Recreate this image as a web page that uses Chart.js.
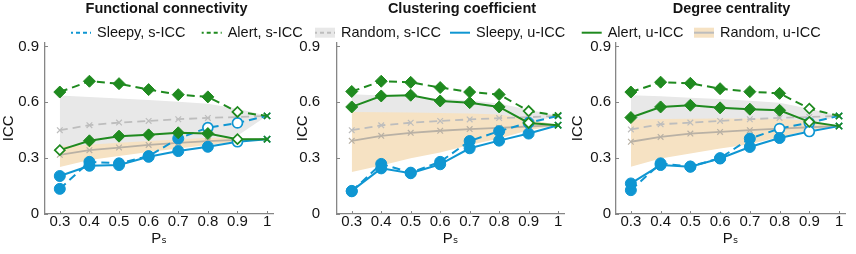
<!DOCTYPE html>
<html>
<head>
<meta charset="utf-8">
<script src="https://cdn.jsdelivr.net/npm/chart.js@4.4.1/dist/chart.umd.min.js"></script>
<style>
html,body{margin:0;padding:0;background:#fff;overflow:hidden}
#wrap{position:relative;width:856px;height:254px;overflow:hidden}
canvas{position:absolute;top:0}
</style>
</head>
<body>
<div id="wrap">
  <canvas id="c1" width="333" height="254" style="left:0px"></canvas>
  <canvas id="c2" width="336" height="254" style="left:294px"></canvas>
  <canvas id="c3" width="325" height="254" style="left:569px"></canvas>
  <canvas id="cl" width="856" height="50" style="left:0px"></canvas>
</div>
<script>
// ---------- data ----------
const ps = [0.3, 0.4, 0.5, 0.6, 0.7, 0.8, 0.9, 1.0];
const xTickLabels = ['0.3', '0.4', '0.5', '0.6', '0.7', '0.8', '0.9', '1'];
const yTicks = [0, 0.3, 0.6, 0.9];
const yTickLabels = ['0', '0.3', '0.6', '0.9'];
const panelTitles = ['Functional connectivity', 'Clustering coefficient', 'Degree centrality'];
const legendLabels = ['Sleepy, s-ICC', 'Alert, s-ICC', 'Random, s-ICC', 'Sleepy, u-ICC', 'Alert, u-ICC', 'Random, u-ICC'];
const yTitle = 'ICC';
const xTitle = 'P\u209B';

// Functional connectivity
const fcSleepyS = [0.135, 0.280, 0.272, 0.311, 0.405, 0.464, 0.489, 0.527];
const fcSleepySHollow = [0, 0, 0, 0, 0, 1, 1, 0];
const fcAlertS = [0.655, 0.713, 0.700, 0.668, 0.641, 0.629, 0.548, 0.527];
const fcAlertSHollow = [0, 0, 0, 0, 0, 0, 1, 0];
const fcRandomS = [0.450, 0.477, 0.491, 0.500, 0.509, 0.516, 0.521, 0.527];
const fcRandomSHigh = [0.636, 0.628, 0.620, 0.612, 0.603, 0.592, 0.565, 0.527];
const fcRandomSLow = [0.340, 0.355, 0.370, 0.380, 0.390, 0.400, 0.420, 0.527];
const fcSleepyU = [0.204, 0.259, 0.263, 0.307, 0.338, 0.361, 0.388, 0.402];
const fcSleepyUHollow = [0, 0, 0, 0, 0, 0, 1, 0];
const fcAlertU = [0.343, 0.393, 0.418, 0.425, 0.436, 0.432, 0.402, 0.402];
const fcAlertUHollow = [1, 0, 0, 0, 0, 0, 1, 0];
const fcRandomU = [0.318, 0.343, 0.357, 0.371, 0.382, 0.391, 0.398, 0.402];
const fcRandomUHigh = [0.362, 0.372, 0.382, 0.392, 0.400, 0.410, 0.410, 0.402];
const fcRandomULow = [0.252, 0.290, 0.312, 0.333, 0.352, 0.370, 0.390, 0.402];

// Clustering coefficient
const ccSleepyS = [0.122, 0.269, 0.222, 0.280, 0.392, 0.445, 0.490, 0.527];
const ccSleepySHollow = [0, 0, 0, 0, 0, 0, 0, 0];
const ccAlertS = [0.658, 0.713, 0.707, 0.679, 0.655, 0.642, 0.553, 0.529];
const ccAlertSHollow = [0, 0, 0, 0, 0, 0, 1, 0];
const ccRandomS = [0.450, 0.476, 0.490, 0.500, 0.508, 0.515, 0.520, 0.527];
const ccRandomSHigh = [0.643, 0.636, 0.629, 0.620, 0.610, 0.593, 0.560, 0.527];
const ccRandomSLow = [0.500, 0.500, 0.500, 0.500, 0.500, 0.500, 0.490, 0.527];
const ccSleepyU = [0.124, 0.245, 0.219, 0.267, 0.353, 0.394, 0.432, 0.477];
const ccSleepyUHollow = [0, 0, 0, 0, 0, 0, 0, 0];
const ccAlertU = [0.575, 0.634, 0.638, 0.607, 0.598, 0.575, 0.489, 0.477];
const ccAlertUHollow = [0, 0, 0, 0, 0, 0, 1, 0];
const ccRandomU = [0.393, 0.420, 0.436, 0.447, 0.456, 0.463, 0.470, 0.477];
const ccRandomUHigh = [0.548, 0.547, 0.545, 0.543, 0.540, 0.535, 0.510, 0.477];
const ccRandomULow = [0.225, 0.260, 0.300, 0.330, 0.370, 0.405, 0.450, 0.477];

// Degree centrality
const dcSleepyS = [0.128, 0.272, 0.255, 0.300, 0.405, 0.459, 0.490, 0.527];
const dcSleepySHollow = [0, 0, 0, 0, 0, 1, 1, 0];
const dcAlertS = [0.655, 0.708, 0.702, 0.673, 0.657, 0.648, 0.566, 0.526];
const dcAlertSHollow = [0, 0, 0, 0, 0, 0, 1, 0];
const dcRandomS = [0.454, 0.482, 0.491, 0.500, 0.509, 0.516, 0.521, 0.527];
const dcRandomSHigh = [0.638, 0.632, 0.625, 0.617, 0.608, 0.598, 0.565, 0.527];
const dcRandomSLow = [0.480, 0.485, 0.490, 0.490, 0.490, 0.490, 0.480, 0.527];
const dcSleepyU = [0.164, 0.263, 0.254, 0.298, 0.360, 0.408, 0.443, 0.472];
const dcSleepyUHollow = [0, 0, 0, 0, 0, 0, 1, 0];
const dcAlertU = [0.518, 0.575, 0.584, 0.570, 0.563, 0.557, 0.495, 0.472];
const dcAlertUHollow = [0, 0, 0, 0, 0, 0, 1, 0];
const dcRandomU = [0.388, 0.414, 0.432, 0.441, 0.450, 0.459, 0.466, 0.472];
const dcRandomUHigh = [0.507, 0.510, 0.512, 0.513, 0.513, 0.512, 0.500, 0.472];
const dcRandomULow = [0.254, 0.298, 0.325, 0.352, 0.375, 0.414, 0.450, 0.472];

// ---------- styles ----------
const BLUE = '#0f96d2';
const GREEN = '#1f8a1f';
const GRAY_LINE = '#bdbdbd';
const GRAY_BAND = '#e8e8e8';
const TAN_LINE = '#b9b1a5';
const ORANGE_BAND = '#f6e2c3';
const AXIS = '#868686';
const TEXT = '#141414';
const FONT = '"Liberation Sans", Arial, "DejaVu Sans", sans-serif';

Chart.defaults.font.family = FONT;
Chart.defaults.font.size = 15;
Chart.defaults.color = TEXT;

function pts(values) { return ps.map((x, i) => ({x: x, y: values[i]})); }

function series(values, color, dash, shape, hollow, order) {
  const last = values.length - 1;
  return {
    data: pts(values), borderColor: color, borderWidth: 2, borderDash: dash,
    pointStyle: values.map((_, i) => i === last ? 'crossRot' : shape),
    pointRadius: values.map((_, i) => i === last ? 4.5 : (hollow[i] ? 5 : (shape === 'rectRot' ? 6 : 5.5))),
    pointBackgroundColor: values.map((_, i) => hollow[i] ? '#ffffff' : color),
    pointBorderColor: color,
    pointBorderWidth: values.map((_, i) => i === last ? 1.6 : (hollow[i] ? 1.7 : 1)),
    fill: false, tension: 0, order: order
  };
}
function randomLine(values, color, dash, order) {
  return {
    data: pts(values), borderColor: color, borderWidth: 1.8, borderDash: dash,
    pointStyle: 'crossRot', pointRadius: 4, pointBorderColor: color, pointBorderWidth: 1.2,
    pointBackgroundColor: color, fill: false, tension: 0, order: order
  };
}
function bandEdge(values, order, target, color) {
  return {
    data: pts(values), borderWidth: 0, pointRadius: 0, tension: 0, order: order,
    fill: target === null ? false : {target: target}, backgroundColor: color || 'rgba(0,0,0,0)'
  };
}

const inwardTicks = {
  id: 'inwardTicks',
  afterDraw(chart) {
    const ctx = chart.ctx, xs = chart.scales.x, ys = chart.scales.y, a = chart.chartArea;
    ctx.save();
    ctx.strokeStyle = AXIS; ctx.lineWidth = 1;
    ctx.beginPath();
    yTicks.forEach(v => { const y = Math.round(ys.getPixelForValue(v)) + 0.5; ctx.moveTo(a.left, y); ctx.lineTo(a.left + 3, y); });
    ps.forEach(v => { const x = Math.round(xs.getPixelForValue(v)) + 0.5; ctx.moveTo(x, a.bottom); ctx.lineTo(x, a.bottom - 3); });
    ctx.stroke();
    ctx.restore();
  }
};

function makePanel(canvasId, title, yWidth, rightWidth, labelPad, d) {
  const datasets = [
    bandEdge(d.randomSLow, 20, null),
    bandEdge(d.randomSHigh, 19, 0, GRAY_BAND),
    bandEdge(d.randomULow, 18, null),
    bandEdge(d.randomUHigh, 17, 2, ORANGE_BAND),
    randomLine(d.randomS, GRAY_LINE, [8, 5], 16),
    randomLine(d.randomU, TAN_LINE, [], 15),
    series(d.sleepyS, BLUE, [8, 5], 'circle', d.sleepySHollow, 14),
    series(d.sleepyU, BLUE, [], 'circle', d.sleepyUHollow, 13),
    series(d.alertS, GREEN, [8, 5], 'rectRot', d.alertSHollow, 12),
    series(d.alertU, GREEN, [], 'rectRot', d.alertUHollow, 11)
  ];
  return new Chart(document.getElementById(canvasId), {
    type: 'line',
    data: {datasets: datasets},
    plugins: [inwardTicks],
    options: {
      responsive: false, animation: false, devicePixelRatio: 1,
      events: [],
      layout: {padding: 0},
      plugins: {
        legend: {display: false}, tooltip: {enabled: false},
        title: {display: true, text: title, font: {size: 14.5, weight: 'bold', lineHeight: 1.2},
                color: TEXT, padding: {top: 0, bottom: 25.3}}
      },
      scales: {
        x: {
          type: 'linear', min: 0.25, max: 1.02,
          afterBuildTicks: s => { s.ticks = ps.map(v => ({value: v})); },
          afterFit: s => { s.height = 40; },
          grid: {display: false, drawTicks: false},
          border: {display: true, color: AXIS, width: 1.3},
          ticks: {padding: 0, font: {size: 15, lineHeight: 1}, color: TEXT, maxRotation: 0, autoSkip: false,
                  callback: (v, i) => xTickLabels[i]},
          title: {display: true, text: xTitle, font: {size: 15, lineHeight: 1.2}, color: TEXT, padding: {top: 0, bottom: 6}}
        },
        y: {
          type: 'linear', position: 'left', min: 0, max: 0.92,
          afterBuildTicks: s => { s.ticks = yTicks.map(v => ({value: v})); },
          afterFit: s => { s.width = yWidth; },
          grid: {display: false, drawTicks: false},
          border: {display: true, color: AXIS, width: 1.3},
          ticks: {padding: labelPad, font: {size: 15, lineHeight: 1}, color: TEXT,
                  callback: (v, i) => yTickLabels[i]},
          title: {display: true, text: yTitle, font: {size: 15, lineHeight: 1.2}, color: TEXT, padding: {top: 0, bottom: 0}}
        },
        y2: {
          type: 'linear', position: 'right', display: true,
          afterFit: s => { s.width = rightWidth; },
          grid: {display: false, drawTicks: false}, border: {display: false},
          ticks: {display: false}
        }
      }
    }
  });
}

makePanel('c1', panelTitles[0], 45, 60, 6, {
  sleepyS: fcSleepyS, sleepySHollow: fcSleepySHollow, alertS: fcAlertS, alertSHollow: fcAlertSHollow,
  randomS: fcRandomS, randomSHigh: fcRandomSHigh, randomSLow: fcRandomSLow,
  sleepyU: fcSleepyU, sleepyUHollow: fcSleepyUHollow, alertU: fcAlertU, alertUHollow: fcAlertUHollow,
  randomU: fcRandomU, randomUHigh: fcRandomUHigh, randomULow: fcRandomULow
});
makePanel('c2', panelTitles[1], 43, 66, 17, {
  sleepyS: ccSleepyS, sleepySHollow: ccSleepySHollow, alertS: ccAlertS, alertSHollow: ccAlertSHollow,
  randomS: ccRandomS, randomSHigh: ccRandomSHigh, randomSLow: ccRandomSLow,
  sleepyU: ccSleepyU, sleepyUHollow: ccSleepyUHollow, alertU: ccAlertU, alertUHollow: ccAlertUHollow,
  randomU: ccRandomU, randomUHigh: ccRandomUHigh, randomULow: ccRandomULow
});
makePanel('c3', panelTitles[2], 47, 49, 5, {
  sleepyS: dcSleepyS, sleepySHollow: dcSleepySHollow, alertS: dcAlertS, alertSHollow: dcAlertSHollow,
  randomS: dcRandomS, randomSHigh: dcRandomSHigh, randomSLow: dcRandomSLow,
  sleepyU: dcSleepyU, sleepyUHollow: dcSleepyUHollow, alertU: dcAlertU, alertUHollow: dcAlertUHollow,
  randomU: dcRandomU, randomUHigh: dcRandomUHigh, randomULow: dcRandomULow
});

// ---------- shared legend ----------
const legendSwatchX = [71, 201.7, 315, 450, 581.7, 694];
const legendStyles = [
  {color: BLUE, dash: [4, 3]},
  {color: GREEN, dash: [4, 3]},
  {color: GRAY_LINE, dash: [4, 3], patch: GRAY_BAND},
  {color: BLUE, dash: []},
  {color: GREEN, dash: []},
  {color: GRAY_LINE, dash: [], patch: ORANGE_BAND}
];
const figLegend = {
  id: 'figLegend',
  afterDraw(chart) {
    const ctx = chart.ctx, cy = 32.7, w = 20;
    ctx.save();
    legendLabels.forEach((text, i) => {
      const sx = legendSwatchX[i], st = legendStyles[i];
      if (st.patch) { ctx.fillStyle = st.patch; ctx.fillRect(sx, cy - 5, w, 10); }
      ctx.strokeStyle = st.color; ctx.lineWidth = 2;
      ctx.setLineDash(st.dash); ctx.lineDashOffset = st.dash.length ? 2 : 0;
      ctx.beginPath(); ctx.moveTo(sx, cy); ctx.lineTo(sx + w, cy); ctx.stroke();
      ctx.setLineDash([]);
      ctx.fillStyle = TEXT; ctx.font = '14.5px ' + FONT;
      ctx.textBaseline = 'middle'; ctx.textAlign = 'left';
      ctx.fillText(text, sx + 26, cy);
    });
    ctx.restore();
  }
};
new Chart(document.getElementById('cl'), {
  type: 'line',
  data: {datasets: []},
  plugins: [figLegend],
  options: {
    responsive: false, animation: false, devicePixelRatio: 1, events: [],
    plugins: {legend: {display: false}, tooltip: {enabled: false}, title: {display: false}},
    scales: {x: {display: false}, y: {display: false}}
  }
});
</script>
</body>
</html>
